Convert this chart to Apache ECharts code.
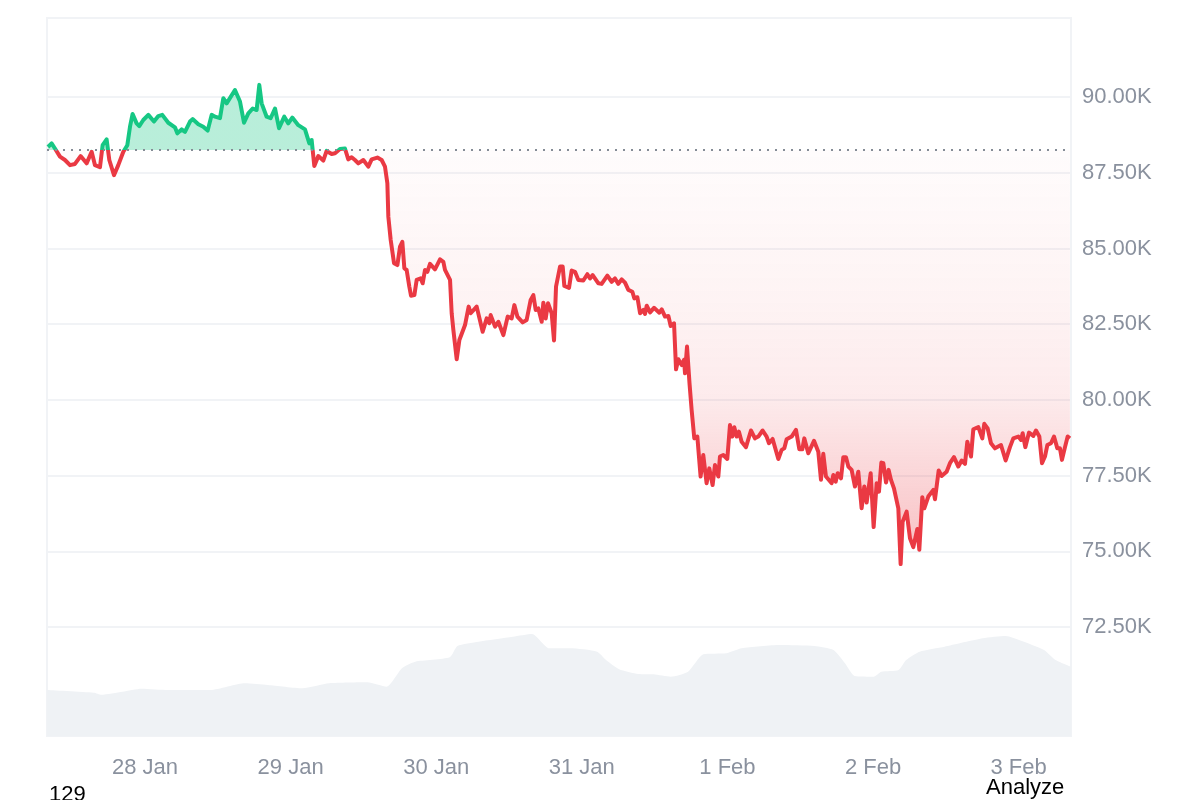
<!DOCTYPE html>
<html lang="en">
<head>
	<meta charset="UTF-8">
	<title>price chart</title>
	<style>
		html, body { margin: 0; padding: 0; background: #fff; overflow: hidden; }
		#main { width: 1200px; height: 800px; }
	</style>
</head>
<body>
	<div id="main"></div>
	<script src="https://cdn.jsdelivr.net/npm/echarts@6/dist/echarts.min.js"></script>
	<script>
		// hours counted from 28 Jan 00:00
		var priceHours = [
			-15.99,-15.39,-14.84,-14.01,-13.19,-12.36,-11.54,-10.61,-9.62,-8.79,-8.24,-7.42,-6.98,-6.32,-5.88,-5.11,-4.40,-3.57,-2.91,-2.47,
			-2.04,-1.38,-0.94,-0.28,0.55,1.48,2.20,2.85,3.84,4.94,5.33,6.04,6.59,7.42,7.85,8.79,9.61,10.33,10.99,11.54,
			12.36,12.91,13.46,14.83,15.66,16.32,17.03,17.75,18.40,18.84,19.23,20.05,20.71,21.43,22.09,22.96,23.62,24.28,25.27,26.37,
			27.09,27.47,27.91,28.57,29.39,29.94,30.77,31.32,32.14,32.96,33.51,34.06,34.61,35.16,35.99,36.81,37.36,38.30,39.01,39.56,
			39.95,40.11,40.50,41.05,41.60,42.04,42.42,42.75,43.13,43.57,43.85,44.40,44.78,45.44,45.77,46.16,46.54,46.98,47.80,48.63,
			49.18,49.45,50.28,50.55,50.83,51.38,51.82,52.75,53.35,53.68,54.67,55.66,56.32,56.76,56.98,57.70,58.24,59.07,59.78,60.44,
			60.88,61.38,62.25,62.91,63.57,64.01,64.40,64.84,65.39,65.66,66.05,66.43,67.03,67.42,67.75,68.41,68.85,69.12,69.89,70.33,
			70.88,71.43,72.25,72.91,73.35,73.79,74.73,75.27,76.21,76.92,77.47,78.02,78.57,79.12,79.67,80.33,80.66,81.16,81.60,82.15,
			82.42,82.70,83.25,83.90,84.78,85.17,85.72,86.27,86.65,87.20,87.53,87.91,88.46,88.85,89.01,89.34,89.75,90.10,90.54,91.04,
			91.58,92.02,92.57,93.01,93.56,93.95,94.50,94.77,95.32,95.98,96.42,96.80,97.13,97.52,97.90,98.34,99.06,99.88,100.54,101.09,
			101.80,102.46,102.85,103.45,104.39,104.94,105.38,105.76,106.59,107.30,107.85,108.34,108.67,109.33,110.27,110.98,111.42,111.80,112.24,113.18,
			113.45,113.84,114.17,114.72,115.10,115.54,115.93,116.47,117.02,117.57,118.12,118.56,118.95,119.61,120.10,120.60,120.98,121.37,121.70,122.14,
			122.57,122.96,123.45,124.17,124.55,124.88,125.54,126.09,126.64,127.30,127.63,128.12,128.45,129.11,129.94,130.21,130.82,131.31,132.13,132.68,
			133.34,134.06,134.61,135.16,135.54,136.15,136.53,137.36,138.01,138.34,138.89,139.44,140.10,141.09,141.86,142.57,143.12,143.95,144.39,144.66,
			145.10,145.71,146.42,146.86,147.41,147.85,148.34,148.73,149.33,149.83,150.38,150.81,151.14,151.64,152.08,152.45
		];
		var prices = [
			88350,88470,88300,88030,87920,87750,87790,88050,87810,88190,87750,87680,88410,88600,87920,87420,87750,88190,88410,89020,
			89440,89130,89040,89240,89410,89190,89370,89410,89150,89000,88800,88930,88850,89190,89270,89100,89020,88890,89410,89350,
			89300,89960,89790,90230,89850,89150,89460,89620,89570,90400,89790,89350,89300,89620,88970,89350,89130,89320,89070,88930,
			88470,88580,87720,88050,87900,88220,88120,88140,88280,88300,87940,88010,87920,87810,87920,87700,87940,88000,87920,87700,
			87150,86050,85280,84510,84450,85060,85220,84340,84290,83740,83440,83460,83960,84010,83850,84290,84230,84490,84310,84640,
			84560,84290,83960,82860,82310,81340,81980,82470,83080,82860,83080,82250,82690,82530,82800,82420,82580,82140,82750,82690,
			83130,82750,82560,82640,83300,83460,82970,83020,82580,83210,82690,83190,82860,81960,83740,84400,84400,83760,83700,84270,
			84230,83960,83940,84150,84010,84120,83850,83830,84100,83900,84010,83830,83980,83870,83630,83570,83350,83390,82860,82970,
			82840,83110,82890,83040,82880,82990,82750,82770,82440,82530,81010,81340,81150,81320,80880,81760,80550,79670,78730,78790,
			77470,78180,77250,77740,77190,77850,77470,78130,78180,78050,79170,78790,79100,78790,78950,78620,78440,78990,78730,78790,
			78990,78790,78570,78710,78050,78350,78400,78700,78790,79010,78370,78370,78730,78240,78650,78290,77360,78220,77470,77250,
			77520,77300,77580,77410,78110,78110,77800,77690,77140,77630,76420,77140,76610,77580,75800,77250,76970,77930,77910,77270,
			77690,77360,77080,76420,74580,75980,76310,75430,75140,75740,75050,76790,76420,76810,77030,76720,77670,77490,77630,77910,
			78110,77800,78000,77890,78620,78130,79030,79100,78730,79210,79060,78570,78400,78510,78000,78440,78730,78790,78680,78900,
			78440,78920,78810,78990,78790,77910,78130,78510,78570,78790,78400,78400,78020,78440,78790,78730
		];
		var volumeHours = [
			-16.15,-8.44,-7.18,-3.71,-0.56,3.86,10.80,16.48,20.26,25.94,30.36,36.67,39.82,42.35,44.55,50.23,51.50,54.96,60.64,63.80,
			66.64,70.10,74.52,76.00,78.15,81.31,83.83,86.67,89.51,92.03,95.82,98.34,104.65,110.33,113.49,115.38,116.96,120.11,121.37,124.21,
			125.47,127.68,131.78,138.09,141.88,144.41,148.19,150.08,152.63
		];
		var volumes = [
			4.60,4.33,4.13,4.43,4.73,4.60,4.60,5.27,5.10,4.77,5.27,5.37,4.93,6.77,7.43,7.87,9.00,9.43,9.93,10.20,
			8.77,8.77,8.43,7.60,6.67,6.20,6.17,5.93,6.43,8.17,8.27,8.77,9.10,9.00,8.60,7.27,6.00,5.93,6.43,6.60,
			7.60,8.43,8.93,9.77,10.00,9.53,8.60,7.60,6.93
		];
		var basePrice = 88250;
		var priceMin = 68904;
		var priceMax = 92608;
		var priceTicks = [72500,75000,77500,80000,82500,85000,87500,90000];
		var dayHours = [0,24,48,72,96,120,144];
		var dayLabels = ['28 Jan','29 Jan','30 Jan','31 Jan','1 Feb','2 Feb','3 Feb'];

		function zip(xs, ys) {
			return xs.map(function (x, i) { return [x, ys[i]]; });
		}

		// share of the plot height above the base price, the colour flips there
		var baseStop = (priceMax - basePrice) / (priceMax - priceMin);

		var myChart = echarts.init(document.getElementById('main'));
		var option = {
			animation: false,
			textStyle: { fontFamily: '"Liberation Sans", Arial, sans-serif' },
			grid: { left: 47, right: 129, top: 18, bottom: 64, show: true, borderColor: '#f1f3f6', borderWidth: 2, backgroundColor: 'transparent' },
			xAxis: {
				type: 'value',
				min: -16.15,
				max: 152.63,
				axisLine: { show: false },
				axisTick: { show: false },
				splitLine: { show: false },
				axisLabel: {
					customValues: dayHours,
					color: '#8a919e',
					fontSize: 22,
					margin: 21,
					formatter: function (v) { return dayLabels[dayHours.indexOf(v)]; }
				}
			},
			yAxis: [{
				type: 'value',
				position: 'right',
				min: priceMin,
				max: priceMax,
				axisLine: { show: false },
				axisTick: { show: false, customValues: priceTicks },
				splitLine: { show: true, customValues: priceTicks, lineStyle: { color: '#f1f3f6', width: 2 } },
				axisLabel: {
					customValues: priceTicks,
					color: '#8a919e',
					fontSize: 22,
					margin: 11,
					padding: [4, 0, 0, 0],
					formatter: function (v) { return (v / 1000).toFixed(2) + 'K'; }
				}
			}, {
				type: 'value',
				show: false,
				min: 0,
				max: 71.8,
				splitLine: { show: false }
			}],
			series: [{
				name: 'volume',
				type: 'line',
				yAxisIndex: 1,
				showSymbol: false,
				silent: true,
				smooth: 0.2,
				z: 1,
				lineStyle: { width: 0 },
				itemStyle: { color: '#eff2f5' },
				areaStyle: { color: '#eff2f5', opacity: 1 },
				data: zip(volumeHours, volumes)
			}, {
				name: 'price',
				type: 'line',
				showSymbol: false,
				z: 3,
				lineStyle: {
					width: 4,
					join: 'round',
					color: {
						type: 'linear', global: true, x: 0, y: 18, x2: 0, y2: 736,
						colorStops: [
							{ offset: 0, color: '#16c784' },
							{ offset: baseStop, color: '#16c784' },
							{ offset: baseStop, color: '#ea3943' },
							{ offset: 1, color: '#ea3943' }
						]
					}
				},
				areaStyle: {
					origin: basePrice,
					opacity: 1,
					color: {
						type: 'linear', global: true, x: 0, y: 18, x2: 0, y2: 736,
						colorStops: [
							{ offset: 0, color: 'rgba(22,199,132,0.3)' },
							{ offset: baseStop, color: 'rgba(22,199,132,0.3)' },
							{ offset: baseStop, color: 'rgba(234,57,67,0.015)' },
							{ offset: 0.39, color: 'rgba(234,57,67,0.06)' },
							{ offset: 0.53, color: 'rgba(234,57,67,0.1)' },
							{ offset: 0.63, color: 'rgba(234,57,67,0.2)' },
							{ offset: 0.75, color: 'rgba(234,57,67,0.32)' },
							{ offset: 1, color: 'rgba(234,57,67,0.32)' }
						]
					}
				},
				markLine: {
					silent: true,
					symbol: 'none',
					label: { show: false },
					lineStyle: { color: '#858c96', width: 2, type: [2, 6] },
					data: [{ yAxis: basePrice }]
				},
				data: zip(priceHours, prices)
			}],
			graphic: [
				{ type: 'text', left: 49, top: 784, style: { text: '129', fontSize: 22, fill: '#000', fontFamily: '"Liberation Sans", Arial, sans-serif' } },
				{ type: 'text', left: 986, top: 777, style: { text: 'Analyze', fontSize: 22, fill: '#000', fontFamily: '"Liberation Sans", Arial, sans-serif' } }
			]
		};
		myChart.setOption(option);
	</script>
</body>
</html>
